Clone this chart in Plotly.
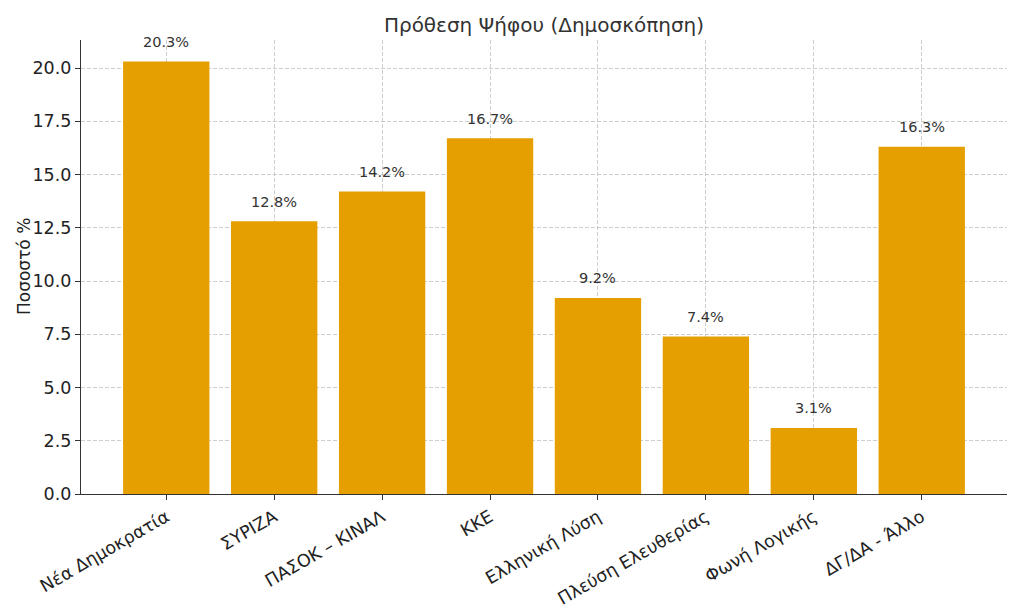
import plotly.graph_objects as go

parties = ["Νέα Δημοκρατία", "ΣΥΡΙΖΑ", "ΠΑΣΟΚ – ΚΙΝΑΛ", "ΚΚΕ", "Ελληνική Λύση",
           "Πλεύση Ελευθερίας", "Φωνή Λογικής", "ΔΓ/ΔΑ - Άλλο"]
values = [20.3, 12.8, 14.2, 16.7, 9.2, 7.4, 3.1, 16.3]
yticks = [0.0, 2.5, 5.0, 7.5, 10.0, 12.5, 15.0, 17.5, 20.0]

xs = list(range(len(parties)))
fig = go.Figure(go.Bar(x=xs, y=values, width=0.8, marker_color="#E69F00",
                       marker_line_width=0))

for x, v in zip(xs, values):
    fig.add_annotation(x=x, y=v + 0.5, text=f"{v:.1f}%", showarrow=False,
                       yanchor="bottom", font=dict(size=14.5, color="#333333"),
                       borderpad=0)

# y-axis title placed as a rotated annotation
fig.add_annotation(x=-57 / 926, xref="paper", y=0.5, yref="paper",
                   text="Ποσοστό %", textangle=-90, showarrow=False,
                   xanchor="center", yanchor="middle",
                   font=dict(size=17, color="#222222"))

grid = "rgba(185,185,185,0.7)"
fig.update_layout(
    width=1024, height=614,
    margin=dict(l=81, r=17, t=40, b=120, autoexpand=False),
    plot_bgcolor="white", paper_bgcolor="white",
    font=dict(family="DejaVu Sans", color="#222222"),
    title=dict(text="Πρόθεση Ψήφου (Δημοσκόπηση)", x=0.5, xanchor="center",
               y=1 - 25 / 614, yanchor="middle", xref="paper",
               font=dict(size=20, color="#333333")),
    showlegend=False,
)
fig.update_xaxes(
    range=[-0.79, 7.79], tickmode="array", tickvals=xs, ticktext=parties,
    tickangle=-30, tickfont=dict(size=17.5, color="#222222"),
    showgrid=True, gridcolor=grid, griddash="4px,2px", gridwidth=0.8,
    showline=True, linecolor="#333333", linewidth=1.2,
    ticks="outside", ticklen=5, tickcolor="#333333", zeroline=False,
    layer="above traces", automargin=False,
)
fig.update_yaxes(
    range=[0, 21.315], tickmode="array", tickvals=yticks,
    ticktext=[f"{t:.1f}" for t in yticks],
    tickfont=dict(size=17.5, color="#222222"),
    showgrid=True, gridcolor=grid, griddash="4px,2px", gridwidth=0.8,
    showline=True, linecolor="#333333", linewidth=1.2,
    ticks="outside", ticklen=5, tickcolor="#333333", zeroline=False,
    layer="above traces", automargin=False,
)

fig.write_html("out.html", config={"displayModeBar": False},
               post_script="document.body.style.margin='0';document.body.style.overflow='hidden';")
